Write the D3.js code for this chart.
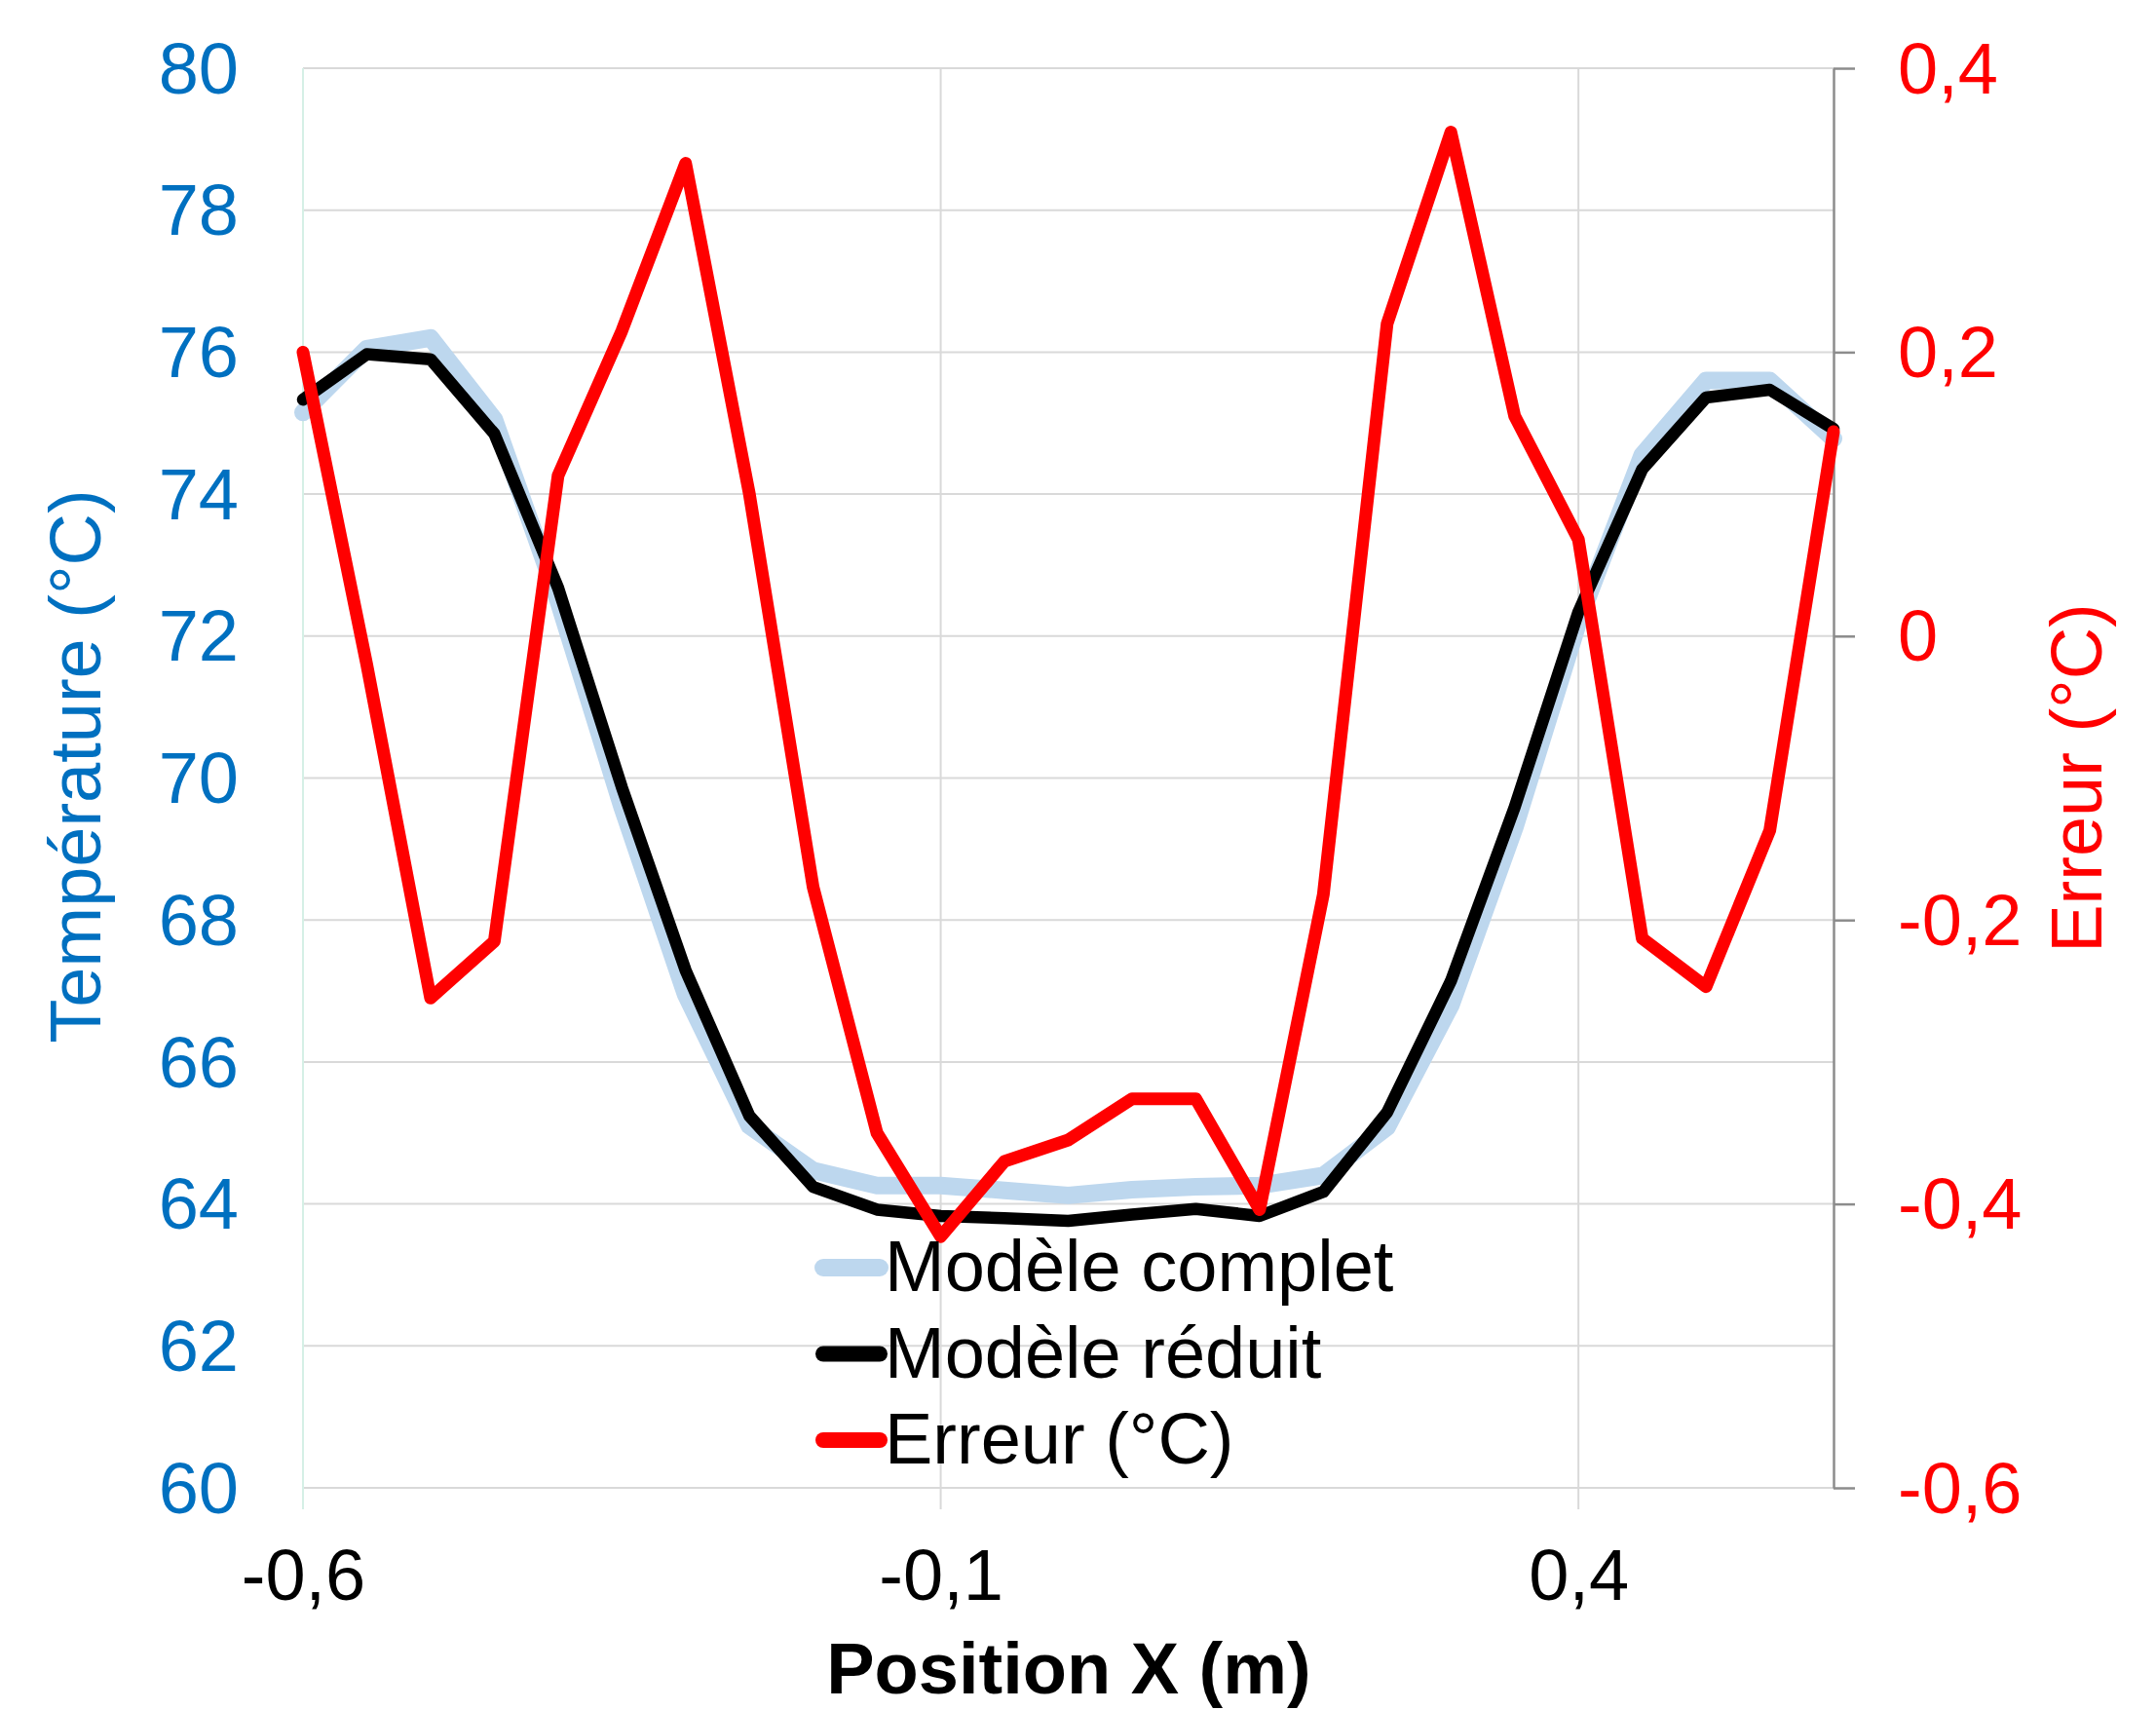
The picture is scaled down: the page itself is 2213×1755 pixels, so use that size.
<!DOCTYPE html>
<html>
<head>
<meta charset="utf-8">
<script src="https://cdn.jsdelivr.net/npm/d3@7"></script>
<style>
    body { margin: 0; background: #fff; }
    text { font-family: "Liberation Sans", Arial, sans-serif; }
</style>
</head>
<body>
<svg id="chart" width="2213" height="1755"></svg>
<script>
// position along X (m)
const positions = [-0.6, -0.55, -0.5, -0.45, -0.4, -0.35, -0.3, -0.25, -0.2, -0.15, -0.1, -0.05, 0,
    0.05, 0.1, 0.15, 0.2, 0.25, 0.3, 0.35, 0.4, 0.45, 0.5, 0.55, 0.6];

// Modèle complet (°C)
const tempComplet = [75.15, 76.05, 76.2, 75.05, 72.5, 69.6, 66.95, 65.1, 64.47, 64.26, 64.26, 64.19, 64.12,
    64.2, 64.24, 64.26, 64.4, 65.08, 66.8, 69.3, 72.2, 74.55, 75.6, 75.6, 74.78];

// Modèle réduit (°C)
const tempReduit = [75.33, 75.97, 75.9, 74.85, 72.68, 69.87, 67.29, 65.24, 64.24, 63.92, 63.83, 63.8, 63.76,
    63.85, 63.93, 63.83, 64.17, 65.29, 67.14, 69.59, 72.34, 74.35, 75.36, 75.47, 74.92];

// Erreur (°C), right axis
const erreur = [0.2, -0.02, -0.255, -0.215, 0.113, 0.215, 0.333, 0.1, -0.177, -0.35, -0.423, -0.37, -0.355,
    -0.326, -0.326, -0.404, -0.182, 0.22, 0.355, 0.155, 0.068, -0.213, -0.247, -0.137, 0.144];

const xTicks = [-0.6, -0.1, 0.4];
const tempTicks = [60, 62, 64, 66, 68, 70, 72, 74, 76, 78, 80];
const errTicks = [-0.6, -0.4, -0.2, 0, 0.2, 0.4];

const seriesNames = ["Modèle complet", "Modèle réduit", "Erreur (°C)"];

const plot = { left: 311, right: 1882, top: 70, bottom: 1527 };
const blueText = "#0070C0";
const red = "#FF0000";
const fontSize = 74;

const comma = d => String(d).replace(".", ",");

const svg = d3.select("#chart");

const x = d3.scaleLinear().domain([-0.6, 0.6]).range([plot.left, plot.right]);
const yT = d3.scaleLinear().domain([60, 80]).range([plot.bottom, plot.top]);
const yE = d3.scaleLinear().domain([-0.6, 0.4]).range([plot.bottom, plot.top]);

// horizontal gridlines
svg.append("g")
    .selectAll("line")
    .data(tempTicks)
    .enter()
    .append("line")
    .attr("x1", plot.left).attr("x2", plot.right)
    .attr("y1", d => yT(d)).attr("y2", d => yT(d))
    .attr("stroke", "#D9D9D9").attr("stroke-width", 2);

// vertical gridlines
svg.append("g")
    .selectAll("line")
    .data(xTicks)
    .enter()
    .append("line")
    .attr("x1", d => x(d)).attr("x2", d => x(d))
    .attr("y1", plot.top).attr("y2", plot.bottom + 22)
    .attr("stroke", "#D9D9D9").attr("stroke-width", 2);

// left axis line (very faint)
svg.append("line")
    .attr("x1", plot.left).attr("x2", plot.left)
    .attr("y1", plot.top).attr("y2", plot.bottom + 22)
    .attr("stroke", "#D5F0E6").attr("stroke-width", 2);

// left axis labels
const leftAxis = svg.append("g")
    .attr("transform", `translate(${plot.left},0)`)
    .call(d3.axisLeft(yT).tickValues(tempTicks).tickSize(0).tickPadding(66).tickFormat(comma));
leftAxis.select(".domain").remove();
leftAxis.selectAll("text")
    .attr("fill", blueText)
    .style("font-size", fontSize + "px")
    .attr("dy", "0.34em");

// right axis
const rightAxis = svg.append("g")
    .attr("transform", `translate(${plot.right},0)`)
    .call(d3.axisRight(yE).tickValues(errTicks).tickSize(22).tickSizeOuter(0).tickPadding(44).tickFormat(comma));
rightAxis.select(".domain").attr("stroke", "#8C8C8C").attr("stroke-width", 2.5);
rightAxis.selectAll("line").attr("stroke", "#8C8C8C").attr("stroke-width", 2.5);
rightAxis.selectAll("text")
    .attr("fill", red)
    .style("font-size", fontSize + "px")
    .attr("dy", "0.34em");

// bottom axis labels
const bottomAxis = svg.append("g")
    .attr("transform", `translate(0,${plot.bottom})`)
    .call(d3.axisBottom(x).tickValues(xTicks).tickSize(0).tickPadding(62).tickFormat(comma));
bottomAxis.select(".domain").remove();
bottomAxis.selectAll("text")
    .attr("fill", "#000")
    .style("font-size", fontSize + "px");

// axis titles
svg.append("text")
    .attr("transform", `translate(103,${(plot.top + plot.bottom) / 2 - 12}) rotate(-90)`)
    .attr("text-anchor", "middle")
    .attr("fill", blueText)
    .style("font-size", fontSize + "px")
    .text("Température (°C)");

svg.append("text")
    .attr("transform", `translate(2157,${(plot.top + plot.bottom) / 2}) rotate(-90)`)
    .attr("text-anchor", "middle")
    .attr("fill", red)
    .style("font-size", fontSize + "px")
    .text("Erreur (°C)");

svg.append("text")
    .attr("x", 1097).attr("y", 1738)
    .attr("text-anchor", "middle")
    .attr("fill", "#000")
    .style("font-size", fontSize + "px")
    .style("font-weight", "bold")
    .text("Position X (m)");

// series
const lineT = d3.line().x((d, i) => x(positions[i])).y(d => yT(d));
const lineE = d3.line().x((d, i) => x(positions[i])).y(d => yE(d));

const series = [
    { values: tempComplet, gen: lineT, color: "#BDD7EE", width: 18 },
    { values: tempReduit, gen: lineT, color: "#000000", width: 12.5 },
    { values: erreur, gen: lineE, color: red, width: 13 }
];

svg.append("g")
    .selectAll("path")
    .data(series)
    .enter()
    .append("path")
    .attr("d", d => d.gen(d.values))
    .attr("fill", "none")
    .attr("stroke", d => d.color)
    .attr("stroke-width", d => d.width)
    .attr("stroke-linejoin", "round")
    .attr("stroke-linecap", "round");

// legend
const legend = svg.append("g")
    .selectAll("g")
    .data(series)
    .enter()
    .append("g")
    .attr("transform", (d, i) => `translate(845,${1301 + i * 88.5})`);

legend.append("line")
    .attr("x1", 0).attr("x2", 58)
    .attr("stroke", d => d.color)
    .attr("stroke-width", d => Math.max(d.width, 16))
    .attr("stroke-linecap", "round");

legend.append("text")
    .attr("x", 63).attr("y", 24)
    .attr("fill", "#000")
    .style("font-size", fontSize + "px")
    .text((d, i) => seriesNames[i]);
</script>
</body>
</html>
